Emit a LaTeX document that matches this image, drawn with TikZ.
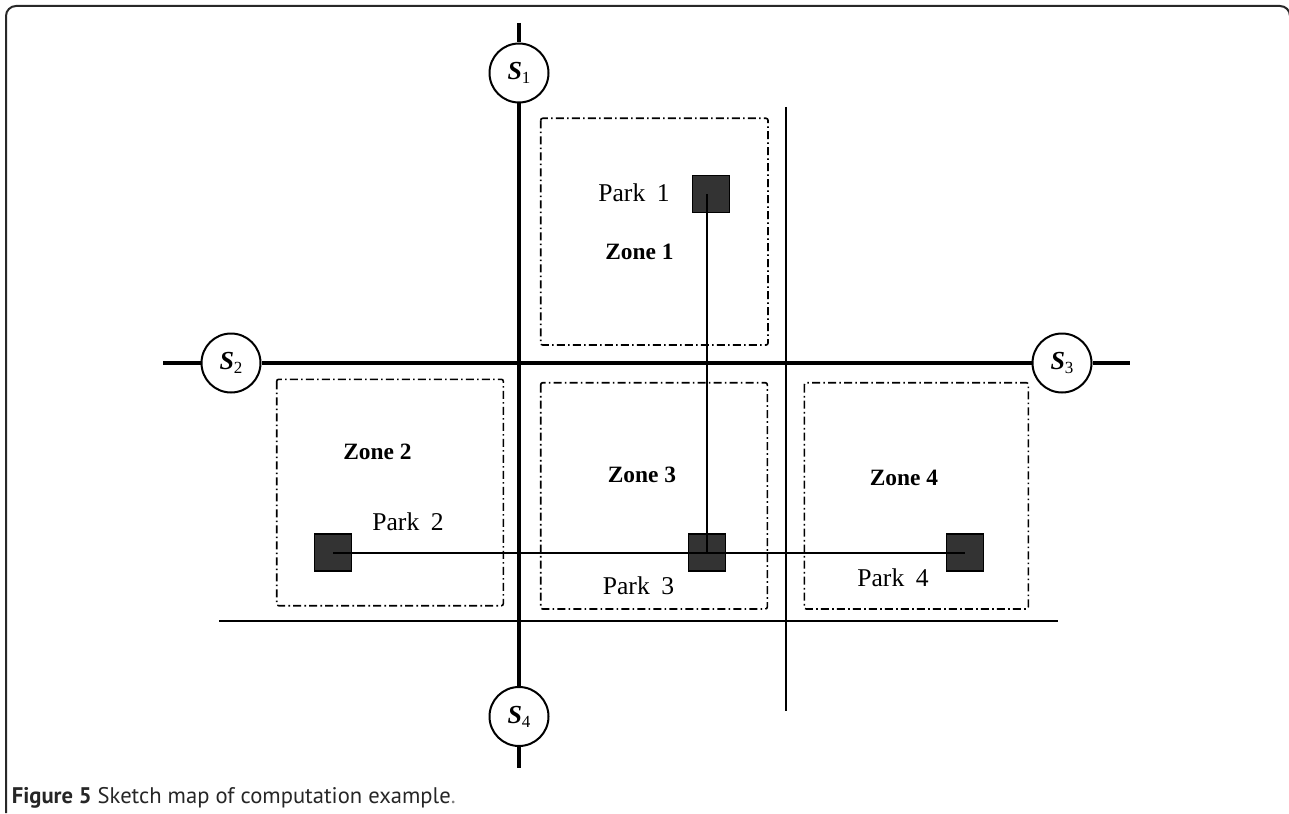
\documentclass[tikz,border=0pt]{standalone}
\usepackage{fontspec}
\setmainfont{Liberation Serif}
\newfontfamily\capfont{PT Sans}
\definecolor{parkfill}{RGB}{51,51,51}
\definecolor{framecol}{RGB}{40,40,40}
\newcommand\stn[1]{\textbf{\textit{S}}\raisebox{-0.35ex}{\fontsize{8.5}{8.5}\selectfont #1}}
\begin{document}
\begin{tikzpicture}[x=0.5pt,y=-0.5pt,
  road/.style={line width=1.6pt},
  thinroad/.style={line width=1pt},
  link/.style={line width=1pt},
  zonebox/.style={line width=0.8pt, dash pattern=on 4pt off 1.6pt on 0.8pt off 1.6pt, rounded corners=1pt},
  station/.style={circle, draw, line width=1pt, fill=white, minimum size=29.5pt, inner sep=0pt, font=\fontsize{13}{13}\selectfont},
  park/.style={rectangle, draw, fill=parkfill, line width=0.6pt, minimum size=18.5pt, inner sep=0pt},
  zonelabel/.style={anchor=base, inner sep=0pt, font=\bfseries\fontsize{11.7}{12}\selectfont},
  parklabel/.style={anchor=base, inner sep=0pt, font=\fontsize{12.8}{13}\selectfont},
]
\useasboundingbox (0,0) rectangle (1289,813);
% frame
\draw[framecol, line width=1pt, rounded corners=5pt] (6,813) -- (6,6) -- (1290,6) -- (1290,813);

% zone boxes
\draw[zonebox] (540.7,118.3) rectangle (768,345);
\draw[zonebox] (276.7,379.3) rectangle (503.3,605.7);
\draw[zonebox] (540.7,382.7) rectangle (767.3,609);
\draw[zonebox] (804.3,382.7) rectangle (1028.3,609);

% stations
\node[station] (S1) at (519,73) {\stn{1}};
\node[station] (S2) at (231,363) {\stn{2}};
\node[station] (S3) at (1062,363) {\stn{3}};
\node[station] (S4) at (519,716.5) {\stn{4}};

% road ends
\coordinate (rtop) at (519,23);
\coordinate (rbot) at (519,768);
\coordinate (rleft) at (163,363);
\coordinate (rright) at (1130,363);
\coordinate (tvtop) at (786.3,107);
\coordinate (tvbot) at (786.3,711);
\coordinate (thl) at (219.3,620.7);
\coordinate (thr) at (1058,620.7);

% main roads
\draw[road] (rtop) -- (S1.north);
\draw[road] (S1.south) -- (S4.north);
\draw[road] (S4.south) -- (rbot);
\draw[road] (rleft) -- (S2.west);
\draw[road] (S2.east) -- (S3.west);
\draw[road] (S3.east) -- (rright);

% minor roads
\draw[thinroad] (tvtop) -- (tvbot);
\draw[thinroad] (thl) -- (thr);

% parks
\node[park] (P1) at (711,194) {};
\node[park] (P2) at (333,552.5) {};
\node[park] (P3) at (707,552.5) {};
\node[park] (P4) at (965,552.5) {};

\draw[link] (P3.center) -- (P3.center |- P1.center);
\draw[link] (P2.center) -- (P4.center);

% labels
\node[parklabel] (L1) at (634,201.7) {Park\hspace{0.45em}1};
\node[zonelabel] (Z1) at (639.5,259) {Zone 1};
\node[zonelabel] (Z2) at (377.5,459) {Zone 2};
\node[parklabel] (L2) at (408,530.7) {Park\hspace{0.45em}2};
\node[zonelabel] (Z3) at (642,482.3) {Zone 3};
\node[parklabel] (L3) at (638.5,594) {Park\hspace{0.45em}3};
\node[zonelabel] (Z4) at (904,485.7) {Zone 4};
\node[parklabel] (L4) at (893,586.7) {Park\hspace{0.45em}4};

% caption
\node[anchor=base west, inner sep=0pt, text=black!85, font=\capfont\fontsize{11.3}{13}\selectfont] (cap) at (11.5,803) {\textbf{Figure 5} Sketch map of computation example\textcolor{gray}{.}};
\end{tikzpicture}
\end{document}
